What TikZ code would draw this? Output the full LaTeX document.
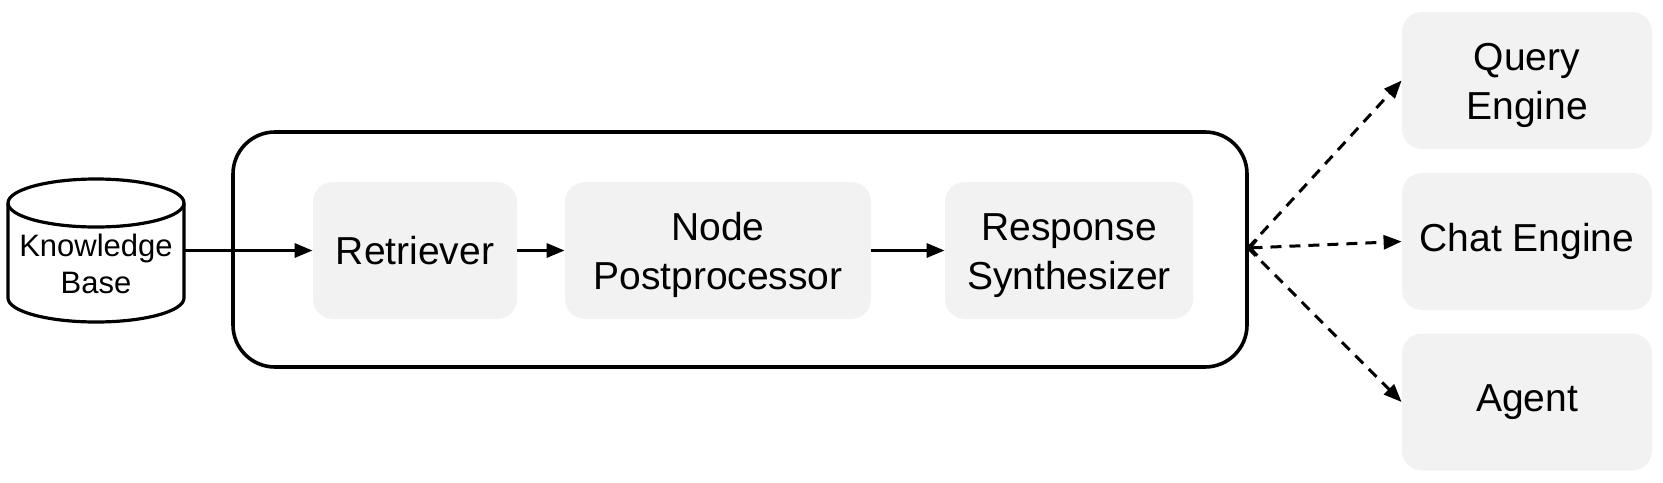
\documentclass[tikz,border=0pt]{standalone}
\usepackage{fontspec}
\setmainfont{Liberation Sans}
\usetikzlibrary{arrows.meta}
\definecolor{boxgray}{HTML}{F2F2F2}
\newcommand{\twolines}[2]{\raisebox{-2.2pt}[\height][\depth]{\begin{tabular}{@{}c@{}}#1\\#2\end{tabular}}}
\tikzset{
  graybox/.style={fill=boxgray, draw=none, rounded corners=10pt, inner sep=0pt, align=center,
    font=\fontsize{19.5}{24.5}\selectfont, minimum height=68.5pt},
  flow/.style={line width=1.6pt, -{Triangle[length=9pt,width=7pt]}},
  dflow/.style={line width=1.5pt, dash pattern=on 5.5pt off 4pt, -{Triangle[length=9pt,width=7pt]}},
}
\begin{document}
\begin{tikzpicture}[x=0.5pt,y=-0.5pt]
\useasboundingbox (0,0) rectangle (1663,482);
% container
\node[draw, line width=1.8pt, rounded corners=21pt, minimum width=507pt, minimum height=117.5pt, inner sep=0pt] (rq) at (740,249.5) {};
% knowledge base cylinder
\draw[line width=1.6pt, fill=white] (8,203) -- (8,298) arc[start angle=180, end angle=0, x radius=88, y radius=24] -- (184,203) arc[start angle=0, end angle=-180, x radius=88, y radius=24] -- cycle;
\draw[line width=1.6pt] (8,203) arc[start angle=180, end angle=0, x radius=88, y radius=24];
\node[minimum width=88pt, minimum height=60pt, inner sep=0pt, align=center, font=\fontsize{15.5}{18.5}\selectfont] (kb) at (96,264) {Knowledge\\Base};
\coordinate (kbe) at (184,250.5);
% inner boxes
\node[graybox, minimum width=102pt] (ret) at (415,250.5) {Retriever};
\node[graybox, minimum width=153pt] (npp) at (718,250.5) {\twolines{Node}{Postprocessor}};
\node[graybox, minimum width=124pt] (rs) at (1069,250.5) {\twolines{Response}{Synthesizer}};
% right boxes
\node[graybox, minimum width=125pt] (qe) at (1527,80.5) {\twolines{Query}{Engine}};
\node[graybox, minimum width=125pt] (ce) at (1527,241.5) {Chat Engine};
\node[graybox, minimum width=125pt] (ag) at (1527,402) {Agent};
% connectors
\draw[flow] (kbe) -- (ret.west);
\draw[flow] (ret.east) -- (npp.west);
\draw[flow] (npp.east) -- (rs.west);
\coordinate (j) at (1248,248);
\draw[dflow] (j) -- (qe.west);
\draw[dflow, {Straight Barb[length=3.5pt,width=8pt]}-{Triangle[length=9pt,width=7pt]}] (j) -- (ce.west);
\draw[dflow] (j) -- (ag.west);
\end{tikzpicture}
\end{document}
